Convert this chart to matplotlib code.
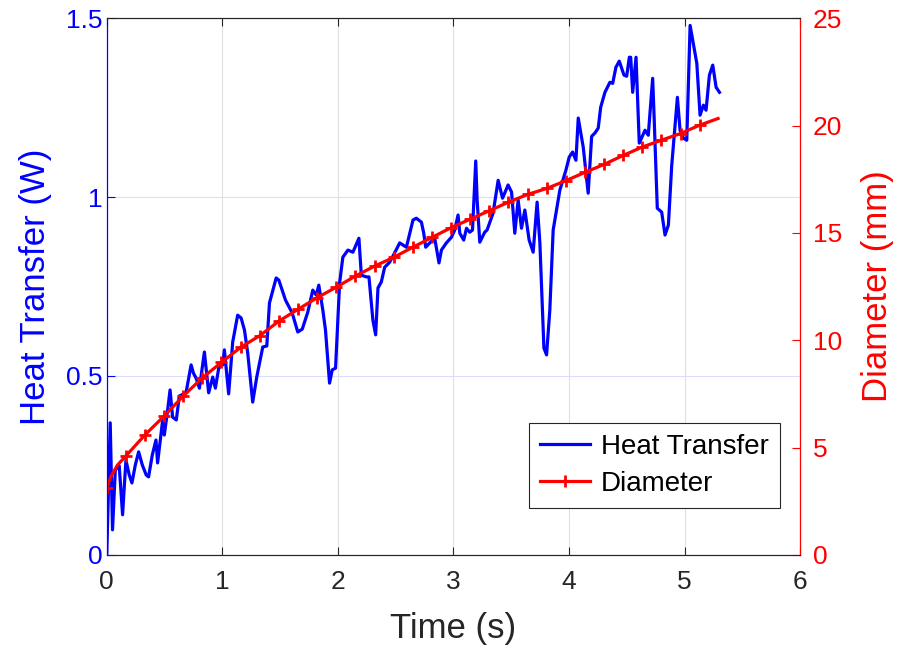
import matplotlib
matplotlib.use("Agg")
import matplotlib.pyplot as plt
from matplotlib.ticker import FuncFormatter

plt.rcParams['font.family'] = ['Liberation Sans', 'DejaVu Sans']

# heat transfer signal (W) vs time (s)
time_q = [0.000, 0.030, 0.050, 0.074, 0.108, 0.137, 0.166, 0.195, 0.218, 0.247,
          0.276, 0.308, 0.342, 0.362, 0.394, 0.426, 0.440, 0.484, 0.498, 0.524,
          0.548, 0.570, 0.602, 0.628, 0.686, 0.730, 0.750, 0.773, 0.802, 0.845,
          0.882, 0.917, 0.940, 0.969, 1.003, 1.018, 1.055, 1.090, 1.133, 1.163,
          1.192, 1.220, 1.263, 1.298, 1.350, 1.385, 1.408, 1.466, 1.489, 1.547,
          1.605, 1.653, 1.692, 1.740, 1.783, 1.813, 1.835, 1.870, 1.893, 1.928,
          1.951, 1.980, 2.015, 2.043, 2.087, 2.130, 2.182, 2.203, 2.246, 2.269,
          2.303, 2.327, 2.347, 2.376, 2.405, 2.448, 2.491, 2.535, 2.593, 2.650,
          2.679, 2.723, 2.743, 2.760, 2.795, 2.838, 2.875, 2.896, 2.939, 2.983,
          3.011, 3.040, 3.055, 3.089, 3.113, 3.141, 3.165, 3.193, 3.205, 3.228,
          3.271, 3.291, 3.343, 3.387, 3.425, 3.473, 3.503, 3.531, 3.560, 3.589,
          3.618, 3.655, 3.690, 3.724, 3.748, 3.783, 3.806, 3.834, 3.863, 3.921,
          3.973, 4.002, 4.031, 4.060, 4.080, 4.123, 4.166, 4.196, 4.224, 4.253,
          4.274, 4.311, 4.354, 4.378, 4.406, 4.435, 4.476, 4.499, 4.522, 4.534,
          4.551, 4.580, 4.608, 4.658, 4.686, 4.724, 4.736, 4.764, 4.802, 4.831,
          4.860, 4.889, 4.938, 4.961, 4.990, 5.019, 5.048, 5.106, 5.134, 5.163,
          5.186, 5.215, 5.244, 5.273, 5.302]
heat = [0.000, 0.369, 0.070, 0.237, 0.249, 0.112, 0.265, 0.223, 0.201, 0.251,
        0.288, 0.251, 0.223, 0.218, 0.279, 0.321, 0.257, 0.377, 0.335, 0.397,
        0.461, 0.385, 0.377, 0.444, 0.453, 0.531, 0.508, 0.494, 0.466, 0.567,
        0.453, 0.497, 0.466, 0.522, 0.531, 0.573, 0.450, 0.595, 0.670, 0.662,
        0.628, 0.564, 0.427, 0.497, 0.581, 0.584, 0.704, 0.774, 0.768, 0.712,
        0.676, 0.623, 0.631, 0.679, 0.740, 0.726, 0.754, 0.684, 0.628, 0.480,
        0.517, 0.522, 0.760, 0.832, 0.852, 0.846, 0.885, 0.782, 0.777, 0.777,
        0.656, 0.615, 0.746, 0.763, 0.804, 0.818, 0.844, 0.872, 0.860, 0.936,
        0.941, 0.930, 0.899, 0.860, 0.872, 0.885, 0.816, 0.852, 0.872, 0.888,
        0.908, 0.950, 0.899, 0.880, 0.913, 0.902, 0.908, 1.101, 0.992, 0.874,
        0.902, 0.908, 0.955, 1.047, 0.997, 1.034, 1.014, 0.899, 0.992, 0.913,
        0.964, 0.880, 0.846, 0.986, 0.872, 0.578, 0.559, 0.684, 0.908, 1.020,
        1.075, 1.112, 1.126, 1.103, 1.221, 1.140, 1.011, 1.170, 1.179, 1.193,
        1.251, 1.293, 1.321, 1.318, 1.363, 1.380, 1.341, 1.338, 1.391, 1.391,
        1.293, 1.391, 1.151, 1.187, 1.173, 1.332, 1.229, 0.969, 0.958, 0.894,
        0.922, 1.089, 1.279, 1.187, 1.165, 1.159, 1.480, 1.374, 1.229, 1.257,
        1.243, 1.341, 1.369, 1.307, 1.293]

# bubble diameter (mm) vs time (s)
time_d = [0.000, 0.036, 0.094, 0.166, 0.331, 0.497, 0.662, 0.828, 0.993, 1.159,
          1.324, 1.490, 1.655, 1.821, 1.986, 2.152, 2.317, 2.483, 2.648, 2.814,
          2.979, 3.145, 3.310, 3.476, 3.641, 3.807, 3.972, 4.138, 4.303, 4.469,
          4.634, 4.800, 4.965, 5.131, 5.290]
diameter = [3.10, 3.65, 4.19, 4.61, 5.59, 6.47, 7.40, 8.25, 8.97, 9.67,
            10.21, 10.89, 11.44, 11.98, 12.47, 12.99, 13.45, 13.86, 14.33, 14.79,
            15.24, 15.64, 16.03, 16.43, 16.79, 17.07, 17.43, 17.82, 18.19, 18.61,
            19.00, 19.32, 19.63, 20.02, 20.33]
marker_idx = [0] + list(range(3, 34))

blue = '#0000ff'
red = '#ff0000'
dark = '#262626'

fig = plt.figure(figsize=(8.97, 6.52), dpi=100)
ax1 = fig.add_axes([0.119, 0.149, 0.773, 0.823])
ax2 = ax1.twinx()

l1, = ax1.plot(time_q, heat, color=blue, lw=2.3, label='Heat Transfer')
l2, = ax2.plot(time_d, diameter, color=red, lw=2.3, marker='+', ms=8, mew=2,
               markevery=marker_idx, label='Diameter')

ax1.set_xlim(0, 6)
ax1.set_ylim(0, 1.5)
ax2.set_ylim(0, 25)
ax1.set_xticks(range(0, 7))
ax1.set_yticks([0, 0.5, 1, 1.5])
ax2.set_yticks(range(0, 30, 5))
ax1.yaxis.set_major_formatter(FuncFormatter(lambda v, p: f'{v:g}'))

# MATLAB-like grid: x grid gray, y grid tinted with the left axis colour
ax1.grid(True, axis='x', color='#dfdfdf', lw=0.8)
ax1.grid(True, axis='y', color='#dcdcff', lw=0.8)
ax1.set_axisbelow(True)

ax1.tick_params(axis='x', direction='in', length=6, colors=dark, labelsize=19,
                top=True, pad=11)
ax1.tick_params(axis='y', direction='in', length=6, colors=blue, labelsize=19,
                pad=3)
ax2.tick_params(axis='y', direction='in', length=6, colors=red, labelsize=19,
                pad=9)
ax2.tick_params(axis='x', top=False)

for ax in (ax1, ax2):
    ax.spines['top'].set_color(dark)
    ax.spines['bottom'].set_color(dark)
    ax.spines['left'].set_color(blue)
    ax.spines['right'].set_color(red)
    for s in ax.spines.values():
        s.set_linewidth(0.8)

ax1.set_xlabel('Time (s)', fontsize=25, color=dark, labelpad=13)
ax1.set_ylabel('Heat Transfer (W)', fontsize=25, color=blue, labelpad=10)
ax2.set_ylabel('Diameter (mm)', fontsize=25, color=red, labelpad=14)

leg = ax2.legend([l1, l2], ['Heat Transfer', 'Diameter'], loc='lower right',
                 bbox_to_anchor=(0.971, 0.0875), borderaxespad=0, fontsize=20,
                 fancybox=False, framealpha=1, edgecolor=dark,
                 handlelength=1.8, handletextpad=0.4,
                 borderpad=0.4, labelspacing=0.4)
leg.get_frame().set_linewidth(0.8)

fig.savefig('out.png', dpi=100)
